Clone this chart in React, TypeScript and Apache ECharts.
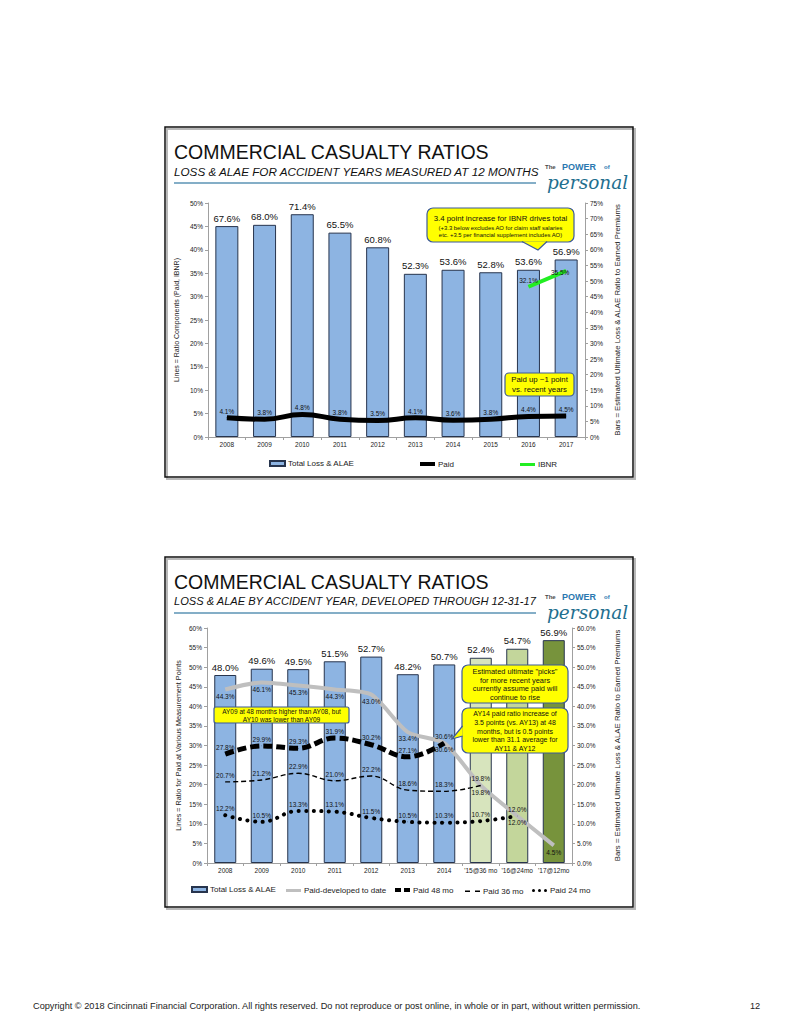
import React, { useEffect, useRef } from "react";
import * as echarts from "echarts";

// ---------- Slide 1 data ----------
const years1 = ["2008", "2009", "2010", "2011", "2012", "2013", "2014", "2015", "2016", "2017"];
const totalLoss1 = [67.6, 68.0, 71.4, 65.5, 60.8, 52.3, 53.6, 52.8, 53.6, 56.9];
const paid1 = [4.1, 3.8, 4.8, 3.8, 3.5, 4.1, 3.6, 3.8, 4.4, 4.5];
const ibnr1 = [null, null, null, null, null, null, null, null, 32.1, 35.5];

// ---------- Slide 2 data ----------
const cats2 = ["2008", "2009", "2010", "2011", "2012", "2013", "2014", "'15@36 mo", "'16@24mo", "'17@12mo"];
const totalLoss2 = [48.0, 49.6, 49.5, 51.5, 52.7, 48.2, 50.7, 52.4, 54.7, 56.9];
const paidToDate = [44.3, 46.1, 45.3, 44.3, 43.0, 33.4, 30.6, 19.8, 12.0, 4.5];
const paid48 = [27.8, 29.9, 29.3, 31.9, 30.2, 27.1, 30.6, null, null, null];
const paid36 = [20.7, 21.2, 22.9, 21.0, 22.2, 18.6, 18.3, 19.8, null, null];
const paid24 = [12.2, 10.5, 13.3, 13.1, 11.5, 10.5, 10.3, 10.7, 12.0, null];

const FONT = "'Liberation Sans', Arial, sans-serif";
const AX = "#a0a0a0";
const BLUE_BAR = "#8db4e2";
const BAR_BORDER = "#27344d";
const pct1 = (v: number) => v.toFixed(1) + "%";

const lineLabel = (pos: string) => ({
  show: true,
  position: pos,
  distance: 3,
  fontSize: 6.5,
  color: "#111",
  formatter: (p: any) => pct1(typeof p.value === "number" ? p.value : p.data.value),
});

function withPos(values: (number | null)[], posFor: (i: number) => string) {
  return values.map((v, i) =>
    v == null ? null : { value: v, label: lineLabel(posFor(i)) }
  );
}

function callout(
  x: number, y: number, w: number, h: number, r: number,
  pointer: number[][] | null
) {
  const els: any[] = [];
  els.push({
    type: "rect",
    z: 100,
    shape: { x, y, width: w, height: h, r },
    style: { fill: "#ffff00", stroke: "#3c5a9a", lineWidth: 1.2 },
  });
  if (pointer) {
    els.push({
      type: "polygon",
      z: 101,
      shape: { points: pointer },
      style: { fill: "#ffff00", stroke: "none" },
    });
    els.push({
      type: "polyline",
      z: 102,
      shape: { points: pointer },
      style: { stroke: "#3c5a9a", lineWidth: 1.2, fill: "none" },
    });
  }
  return els;
}

function txt(text: string, x: number, y: number, size: number, extra: any = {}) {
  return {
    type: "text",
    z: 110,
    x,
    y,
    style: {
      text,
      fontSize: size,
      fontFamily: FONT,
      fill: "#111",
      textAlign: "left",
      textVerticalAlign: "middle",
      verticalAlign: "middle",
      ...extra,
    },
  };
}

function slideDecor(dy: number, subtitle: string, subSize: number) {
  return [
    {
      type: "rect",
      z: -1,
      shape: { x: 167, y: 129 + dy, width: 468, height: 350 },
      style: { fill: "none", stroke: "#b8b8b8", lineWidth: 2 },
    },
    {
      type: "rect",
      z: -1,
      shape: { x: 165, y: 127 + dy, width: 468, height: 350 },
      style: { fill: "none", stroke: "#111", lineWidth: 1.5 },
    },
    txt("COMMERCIAL CASUALTY RATIOS", 174, 152 + dy, 19.5),
    txt(subtitle, 174, 171 + dy, subSize, { fontStyle: "italic" }),
    {
      type: "line",
      z: 100,
      shape: { x1: 174, y1: 183 + dy, x2: 536, y2: 183 + dy },
      style: { stroke: "#5b93b5", lineWidth: 1.5 },
    },
    txt("The", 545, 166.5 + dy, 6, { fill: "#4a4a4a", fontWeight: "bold" }),
    txt("POWER", 562, 166.5 + dy, 9, { fill: "#2a78b0", fontWeight: "bold" }),
    txt("of", 604, 166.5 + dy, 6, { fill: "#2a78b0", fontWeight: "bold" }),
    txt("personal", 547, 182.5 + dy, 18.5, {
      fill: "#1f6f8f",
      fontStyle: "italic",
      fontFamily: "'DejaVu Serif', serif",
    }),
  ];
}

export default function App() {
  const ref = useRef<HTMLDivElement>(null);

  useEffect(() => {
    if (!ref.current) return;
    const chart = echarts.init(ref.current, null, { renderer: "svg" });

    const axisCommon = {
      axisLine: { show: true, lineStyle: { color: AX, width: 1 } },
      axisTick: { show: true, length: 3, lineStyle: { color: AX } },
      splitLine: { show: false },
    };
    const nameStyle = (size: number) => ({ fontSize: size, color: "#222", fontFamily: FONT });

    const legendBase = {
      orient: "horizontal",
      padding: 0,
      itemGap: 0,
      textStyle: { fontSize: 8, color: "#222", fontFamily: FONT, padding: [0, 0, 0, -2] },
      selectedMode: false,
    };

    const graphics: any[] = [
      ...slideDecor(0, "LOSS & ALAE FOR ACCIDENT YEARS MEASURED AT 12 MONTHS", 11.7),
      ...slideDecor(430, "LOSS & ALAE BY ACCIDENT YEAR, DEVELOPED THROUGH 12-31-17", 11.1),
      // slide 1 callouts
      ...callout(427, 208, 147, 34, 6, [[522, 241.5], [538, 250], [547, 241.5]]),
      txt("3.4 point increase for IBNR drives total", 500.5, 218.5, 7.8, { textAlign: "center" }),
      txt("(+3.3 below excludes AO for claim staff salaries", 500.5, 228, 5.9, { textAlign: "center" }),
      txt("etc. +3.5 per financial supplement includes AO)", 500.5, 234.5, 5.9, { textAlign: "center" }),
      ...callout(505, 373, 69, 23, 4, null),
      txt("Paid up ~1 point\nvs. recent years", 539.5, 384.5, 7.8, { textAlign: "center", lineHeight: 9.5 }),
      // slide 2 callouts
      ...callout(214, 707, 135, 16, 2, null),
      txt("AY09 at 48 months higher than AY08, but\nAY10 was lower than AY09", 281.5, 715, 6.5, {
        textAlign: "center",
        lineHeight: 8,
      }),
      ...callout(462, 665, 106, 38, 6, null),
      txt('Estimated ultimate "picks"\nfor more recent years\ncurrently assume paid will\ncontinue to rise', 515, 684.5, 7.4, {
        textAlign: "center",
        lineHeight: 8.9,
      }),
      ...callout(462, 708, 106, 45, 6, [[462.6, 726], [452, 739], [462.6, 736]]),
      txt("AY14 paid ratio increase of\n3.5 points (vs. AY13) at 48\nmonths, but is 0.5 points\nlower than 31.1 average for\nAY11 & AY12", 515, 731, 7, {
        textAlign: "center",
        lineHeight: 8.7,
      }),
      // footer
      txt(
        "Copyright © 2018 Cincinnati Financial Corporation. All rights reserved. Do not reproduce or post online, in whole or in part, without written permission.",
        33, 1006, 9.2, { fill: "#222" }
      ),
      txt("12", 750, 1006, 9.2, { fill: "#222" }),
    ];

    const lineCommon = {
      symbol: "circle",
      symbolSize: 0.5,
      showSymbol: true,
    };

    const option: any = {
      animation: false,
      textStyle: { fontFamily: FONT },
      grid: [
        { left: 208, top: 203, width: 377, height: 234 },
        { left: 207, top: 628, width: 365, height: 235 },
      ],
      xAxis: [
        {
          type: "category",
          gridIndex: 0,
          data: years1,
          ...axisCommon,
          axisLabel: { fontSize: 6.5, color: "#222", margin: 4 },
        },
        {
          type: "category",
          gridIndex: 1,
          data: cats2,
          ...axisCommon,
          axisLabel: { fontSize: 6.5, color: "#222", margin: 4, interval: 0 },
        },
      ],
      yAxis: [
        {
          type: "value",
          gridIndex: 0,
          position: "left",
          min: 0,
          max: 50,
          interval: 5,
          ...axisCommon,
          axisLabel: { fontSize: 6.5, color: "#222", formatter: "{value}%", margin: 5 },
          name: "Lines = Ratio Components (Paid, IBNR)",
          nameLocation: "middle",
          nameGap: 28,
          nameRotate: 90,
          nameTextStyle: nameStyle(7),
        },
        {
          type: "value",
          gridIndex: 0,
          position: "right",
          min: 0,
          max: 75,
          interval: 5,
          ...axisCommon,
          axisLabel: { fontSize: 6.5, color: "#222", formatter: "{value}%", margin: 5 },
          name: "Bars = Estimated Ultimate Loss & ALAE Ratio to Earned Premiums",
          nameLocation: "middle",
          nameGap: 28,
          nameRotate: 90,
          nameTextStyle: nameStyle(7.8),
        },
        {
          type: "value",
          gridIndex: 1,
          position: "left",
          min: 0,
          max: 60,
          interval: 5,
          ...axisCommon,
          axisLabel: { fontSize: 6.5, color: "#222", formatter: "{value}%", margin: 5 },
          name: "Lines = Ratio for Paid at Various Measurement Points",
          nameLocation: "middle",
          nameGap: 25,
          nameRotate: 90,
          nameTextStyle: nameStyle(7.2),
        },
        {
          type: "value",
          gridIndex: 1,
          position: "right",
          min: 0,
          max: 60,
          interval: 5,
          ...axisCommon,
          axisLabel: {
            fontSize: 6.5,
            color: "#222",
            formatter: (v: number) => v.toFixed(1) + "%",
            margin: 5,
          },
          name: "Bars = Estimated Ultimate Loss & ALAE Ratio to Earned Premiums",
          nameLocation: "middle",
          nameGap: 41,
          nameRotate: 90,
          nameTextStyle: nameStyle(7.8),
        },
      ],
      legend: [
        { ...legendBase, left: 269, top: 459.5, itemWidth: 15, itemHeight: 5, data: [{ name: "Total Loss & ALAE", icon: "rect" }] },
        { ...legendBase, left: 420, top: 460, itemWidth: 15, itemHeight: 4, data: [{ name: "Paid", icon: "path://M0,0h15v4h-15z" }] },
        { ...legendBase, left: 520, top: 460.5, itemWidth: 15, itemHeight: 3, data: [{ name: "IBNR", icon: "path://M0,0h15v3h-15z" }] },
        { ...legendBase, left: 191, top: 885.5, itemWidth: 15, itemHeight: 5, data: [{ name: "Total Loss & ALAE", icon: "rect" }] },
        { ...legendBase, left: 286, top: 886.5, itemWidth: 15, itemHeight: 3, data: [{ name: "Paid-developed to date", icon: "path://M0,0h15v3h-15z" }] },
        { ...legendBase, left: 395, top: 886, itemWidth: 15, itemHeight: 4, data: [{ name: "Paid 48 mo", icon: "path://M0,0h6v4h-6zM9,0h6v4h-6z" }] },
        { ...legendBase, left: 465, top: 887.2, itemWidth: 15, itemHeight: 1.6, data: [{ name: "Paid 36 mo", icon: "path://M0,0h5v1.6h-5zM10,0h5v1.6h-5z" }] },
        {
          ...legendBase,
          left: 532,
          top: 886.5,
          itemWidth: 15,
          itemHeight: 3,
          data: [
            {
              name: "Paid 24 mo",
              icon: "path://M0,1.5a1.5,1.5 0 1,0 3,0a1.5,1.5 0 1,0 -3,0M6,1.5a1.5,1.5 0 1,0 3,0a1.5,1.5 0 1,0 -3,0M12,1.5a1.5,1.5 0 1,0 3,0a1.5,1.5 0 1,0 -3,0",
            },
          ],
        },
      ],
      graphic: graphics,
      series: [
        {
          name: "Total Loss & ALAE",
          type: "bar",
          xAxisIndex: 0,
          yAxisIndex: 1,
          data: totalLoss1,
          barWidth: 23,
          itemStyle: { color: BLUE_BAR, borderColor: BAR_BORDER, borderWidth: 1 },
          label: {
            show: true,
            position: "top",
            distance: 3,
            fontSize: 9.5,
            color: "#111",
            formatter: (p: any) => pct1(p.value),
          },
          z: 2,
        },
        {
          name: "Paid",
          type: "line",
          xAxisIndex: 0,
          yAxisIndex: 0,
          data: withPos(paid1, () => "top"),
          smooth: true,
          ...lineCommon,
          lineStyle: { color: "#000", width: 5 },
          itemStyle: { color: "#000" },
          z: 5,
        },
        {
          name: "IBNR",
          type: "line",
          xAxisIndex: 0,
          yAxisIndex: 0,
          data: ibnr1.map((v, i) =>
            v == null
              ? null
              : {
                  value: v,
                  label: i === 9 ? { ...lineLabel("top"), offset: [-6, 8] } : lineLabel("top"),
                }
          ),
          ...lineCommon,
          lineStyle: { color: "#22ee22", width: 4 },
          itemStyle: { color: "#22ee22" },
          z: 5,
        },
        {
          name: "Total Loss & ALAE",
          type: "bar",
          xAxisIndex: 1,
          yAxisIndex: 3,
          data: totalLoss2.map((v, i) => ({
            value: v,
            itemStyle: {
              color: i < 7 ? BLUE_BAR : i === 7 ? "#d7e4bd" : i === 8 ? "#c3d69b" : "#77933c",
            },
          })),
          barWidth: 22,
          itemStyle: { color: BLUE_BAR, borderColor: BAR_BORDER, borderWidth: 1 },
          label: {
            show: true,
            position: "top",
            distance: 3,
            fontSize: 9.5,
            color: "#111",
            formatter: (p: any) => pct1(p.value),
          },
          z: 2,
        },
        {
          name: "Paid-developed to date",
          type: "line",
          xAxisIndex: 1,
          yAxisIndex: 2,
          data: withPos(paidToDate, (i) => (i === 6 || i === 7 ? "top" : "bottom")),
          smooth: 0.25,
          ...lineCommon,
          lineStyle: { color: "#bfbfbf", width: 4 },
          itemStyle: { color: "#bfbfbf" },
          z: 4,
        },
        {
          name: "Paid 48 mo",
          type: "line",
          xAxisIndex: 1,
          yAxisIndex: 2,
          data: withPos(paid48, (i) => (i === 6 ? "bottom" : "top")),
          smooth: 0.4,
          ...lineCommon,
          lineStyle: { color: "#000", width: 5, type: [9, 4] },
          itemStyle: { color: "#000" },
          z: 5,
        },
        {
          name: "Paid 36 mo",
          type: "line",
          xAxisIndex: 1,
          yAxisIndex: 2,
          data: withPos(paid36, (i) => (i === 7 ? "bottom" : "top")),
          smooth: 0.4,
          ...lineCommon,
          lineStyle: { color: "#000", width: 1.4, type: [5, 3] },
          itemStyle: { color: "#000" },
          z: 5,
        },
        {
          name: "Paid 24 mo",
          type: "line",
          xAxisIndex: 1,
          yAxisIndex: 2,
          data: withPos(paid24, () => "top"),
          smooth: 0.4,
          ...lineCommon,
          lineStyle: { color: "#000", width: 4, type: [0.1, 7.5], cap: "round" },
          itemStyle: { color: "#000" },
          z: 5,
        },
      ],
    };

    chart.setOption(option);
    return () => chart.dispose();
  }, []);

  return (
    <div
      ref={ref}
      style={{ position: "absolute", left: 0, top: 0, width: 799, height: 1034, background: "#fff" }}
    />
  );
}
